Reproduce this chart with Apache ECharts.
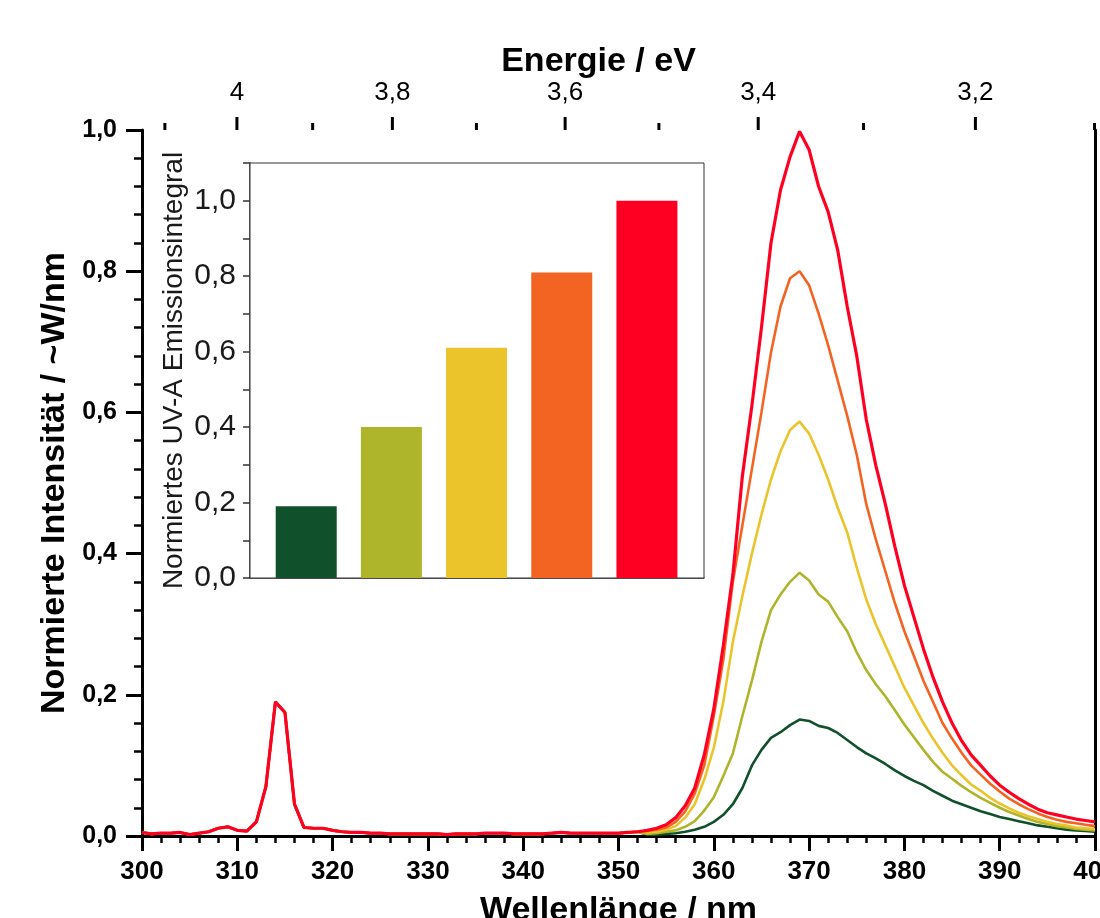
<!DOCTYPE html>
<html>
<head>
<meta charset="utf-8">
<title>UV-A Emission</title>
<script src="https://cdn.jsdelivr.net/npm/echarts@6/dist/echarts.min.js"></script>
<style>
  html, body { margin: 0; padding: 0; background: #fff; }
  #chart { width: 1100px; height: 918px; }
</style>
</head>
<body>
<div id="chart"></div>
<script>
// wavelength grid, 1 nm steps
const nmStart = 300
const nmEnd = 400

// UV-C region 300..352 nm, the five spectra lie on top of each other here
const uvcBand = [
  0.005, 0.003, 0.004, 0.004, 0.005, 0.002, 0.004, 0.006, 0.011, 0.013,
  0.008, 0.007, 0.020, 0.070, 0.190, 0.175, 0.045, 0.012, 0.011, 0.011,
  0.008, 0.006, 0.005, 0.005, 0.004, 0.004, 0.003, 0.003, 0.003, 0.003,
  0.003, 0.003, 0.002, 0.003, 0.003, 0.003, 0.004, 0.004, 0.004, 0.003,
  0.003, 0.003, 0.003, 0.004, 0.005, 0.004, 0.004, 0.004, 0.004, 0.004,
  0.004, 0.005, 0.006
]

// UV-A region 353..400 nm
const uvaGreen = [
  0.002, 0.002, 0.003, 0.004, 0.006, 0.009, 0.013, 0.020, 0.030, 0.045,
  0.068, 0.100, 0.122, 0.139, 0.147, 0.157, 0.165, 0.163, 0.156, 0.153,
  0.146, 0.136, 0.126, 0.117, 0.110, 0.102, 0.093, 0.085, 0.078, 0.072,
  0.064, 0.057, 0.050, 0.045, 0.040, 0.035, 0.031, 0.027, 0.024, 0.021,
  0.018, 0.015, 0.013, 0.011, 0.009, 0.008, 0.007, 0.006
]
const uvaOlive = [
  0.003, 0.004, 0.006, 0.008, 0.013, 0.021, 0.036, 0.055, 0.085, 0.117,
  0.170, 0.220, 0.275, 0.320, 0.342, 0.360, 0.373, 0.362, 0.342, 0.332,
  0.310, 0.290, 0.260, 0.235, 0.215, 0.198, 0.178, 0.158, 0.140, 0.122,
  0.105, 0.091, 0.081, 0.071, 0.062, 0.054, 0.047, 0.040, 0.034, 0.029,
  0.024, 0.020, 0.017, 0.014, 0.012, 0.010, 0.009, 0.008
]
const uvaYellow = [
  0.005, 0.006, 0.009, 0.014, 0.026, 0.045, 0.080, 0.125, 0.190, 0.275,
  0.340, 0.400, 0.455, 0.505, 0.545, 0.575, 0.587, 0.570, 0.540, 0.505,
  0.465, 0.430, 0.380, 0.335, 0.300, 0.270, 0.240, 0.210, 0.185, 0.160,
  0.138, 0.118, 0.100, 0.086, 0.073, 0.064, 0.054, 0.046, 0.039, 0.033,
  0.028, 0.024, 0.020, 0.017, 0.015, 0.012, 0.011, 0.010
]
const uvaOrange = [
  0.007, 0.009, 0.012, 0.020, 0.035, 0.060, 0.100, 0.170, 0.250, 0.360,
  0.440, 0.520, 0.600, 0.685, 0.750, 0.790, 0.800, 0.780, 0.740, 0.695,
  0.645, 0.595, 0.540, 0.470, 0.420, 0.375, 0.330, 0.290, 0.255, 0.220,
  0.190, 0.160, 0.138, 0.118, 0.100, 0.087, 0.074, 0.063, 0.053, 0.045,
  0.038, 0.032, 0.027, 0.023, 0.020, 0.018, 0.016, 0.014
]
const uvaRed = [
  0.008, 0.011, 0.016, 0.026, 0.043, 0.068, 0.115, 0.180, 0.270, 0.370,
  0.510, 0.610, 0.720, 0.840, 0.915, 0.962, 0.998, 0.972, 0.920, 0.884,
  0.830, 0.750, 0.680, 0.590, 0.525, 0.470, 0.410, 0.355, 0.310, 0.265,
  0.225, 0.190, 0.160, 0.135, 0.115, 0.100, 0.085, 0.072, 0.062, 0.053,
  0.045, 0.038, 0.033, 0.030, 0.027, 0.024, 0.022, 0.020
]

// inset: normalised UV-A emission integral
const barValues = [0.19, 0.40, 0.61, 0.81, 1.0]

// energy axis ticks (eV)
const energyMajor = [4.0, 3.8, 3.6, 3.4, 3.2]
const energyMinor = [4.1, 3.9, 3.7, 3.5, 3.3, 3.1]

const colors = ['#10502a', '#aeb52b', '#ebc42b', '#f36322', '#fe0022']
const font = 'Liberation Sans, Arial, sans-serif'
const hc = 1239.84 // eV*nm

const nm = []
for (let w = nmStart; w <= nmEnd; w++) nm.push(w)

const spectra = [uvaGreen, uvaOlive, uvaYellow, uvaOrange, uvaRed].map(uva => {
  const ys = uvcBand.concat(uva)
  return ys.map((v, i) => [nm[i], v])
})

const comma = (v, d) => v.toFixed(d).replace('.', ',')

const chart = echarts.init(document.getElementById('chart'))

const option = {
  backgroundColor: '#fff',
  animation: false,
  textStyle: { fontFamily: font },
  grid: [
    { left: 142, right: 5, top: 130, bottom: 82, outerBoundsMode: 'none' },
    { left: 250, top: 163, width: 454, height: 415, outerBoundsMode: 'none', show: true, borderColor: '#333', borderWidth: 1, backgroundColor: '#fff', z: 5 }
  ],
  xAxis: [
    {
      gridIndex: 0,
      type: 'value',
      position: 'bottom',
      min: 300,
      max: 400,
      interval: 10,
      name: 'Wellenlänge / nm',
      nameLocation: 'middle',
      nameGap: 58,
      nameMoveOverlap: false,
      nameTextStyle: { fontFamily: font, fontWeight: 'bold', fontSize: 34, color: '#000' },
      axisLine: { lineStyle: { color: '#000', width: 3 } },
      axisTick: { length: 15, lineStyle: { color: '#000', width: 3 } },
      minorTick: { show: true, splitNumber: 5, length: 7, lineStyle: { color: '#000', width: 2.5 } },
      axisLabel: { fontFamily: font, fontWeight: 'bold', fontSize: 26, color: '#000', margin: 23 },
      splitLine: { show: false }
    },
    {
      // energy scale, labels only; its ticks come from the custom series below
      gridIndex: 0,
      type: 'value',
      position: 'top',
      min: 300,
      max: 400,
      name: 'Energie / eV',
      nameLocation: 'middle',
      nameGap: 51,
      nameMoveOverlap: false,
      nameTextStyle: { fontFamily: font, fontWeight: 'bold', fontSize: 34, color: '#000', padding: [0, 40, 0, 0] },
      axisLine: { lineStyle: { color: '#000', width: 3 } },
      axisTick: { show: false },
      axisLabel: {
        customValues: energyMajor.map(e => hc / e),
        fontFamily: font,
        fontSize: 26,
        color: '#000',
        margin: 24,
        formatter: v => String(Math.round(hc / v * 10) / 10).replace('.', ',')
      },
      splitLine: { show: false }
    },
    {
      gridIndex: 1,
      type: 'value',
      min: 0.34,
      max: 5.67,
      axisLine: { lineStyle: { color: '#333', width: 1.5 } },
      axisTick: { show: false },
      axisLabel: { show: false },
      splitLine: { show: false }
    }
  ],
  yAxis: [
    {
      gridIndex: 0,
      type: 'value',
      min: 0,
      max: 1,
      interval: 0.2,
      name: 'Normierte Intensität / ~W/nm',
      nameLocation: 'middle',
      nameGap: 70,
      nameMoveOverlap: false,
      nameTextStyle: { fontFamily: font, fontWeight: 'bold', fontSize: 34, color: '#000' },
      axisLine: { show: true, lineStyle: { color: '#000', width: 3 } },
      axisTick: { length: 16, lineStyle: { color: '#000', width: 3 } },
      minorTick: { show: true, splitNumber: 5, length: 8, lineStyle: { color: '#000', width: 2.5 } },
      axisLabel: { fontFamily: font, fontWeight: 'bold', fontSize: 25, color: '#000', margin: 25, formatter: v => comma(v, 1) },
      splitLine: { show: false }
    },
    {
      gridIndex: 0,
      type: 'value',
      position: 'right',
      min: 0,
      max: 1,
      axisLine: { show: true, lineStyle: { color: '#000', width: 3 } },
      axisTick: { show: false },
      axisLabel: { show: false },
      splitLine: { show: false }
    },
    {
      gridIndex: 1,
      type: 'value',
      min: 0,
      max: 1.1,
      interval: 0.1,
      name: 'Normiertes UV-A Emissionsintegral',
      nameLocation: 'middle',
      nameGap: 62,
      nameMoveOverlap: false,
      nameTextStyle: { fontFamily: font, fontSize: 28, color: '#1a1a1a' },
      axisLine: { show: true, lineStyle: { color: '#333', width: 1.5 } },
      axisTick: { length: 7, lineStyle: { color: '#333', width: 1.5 } },
      axisLabel: {
        fontFamily: font,
        fontSize: 30,
        color: '#1a1a1a',
        margin: 14,
        formatter: v => (Math.round(v * 10) % 2 === 0 ? comma(v, 1) : '')
      },
      splitLine: { show: false }
    }
  ],
  series: spectra.map((d, i) => ({
    type: 'line',
    xAxisIndex: 0,
    yAxisIndex: 0,
    data: d,
    showSymbol: false,
    lineStyle: { color: colors[i], width: i === 4 ? 3.2 : 2.6 },
    z: 2 + i
  })).concat([
    {
      type: 'bar',
      xAxisIndex: 2,
      yAxisIndex: 2,
      barWidth: 61,
      z: 10,
      data: barValues.map((v, i) => ({ value: [i + 1, v], itemStyle: { color: colors[i] } }))
    },
    {
      // ticks of the (non linear) energy axis along the top edge
      type: 'custom',
      xAxisIndex: 0,
      yAxisIndex: 0,
      clip: false,
      silent: true,
      z: 20,
      data: energyMajor.concat(energyMinor).map(e => [hc / e, e]),
      renderItem: (params, api) => {
        const p = api.coord([api.value(0), 1])
        const len = params.dataIndex < energyMajor.length ? 13 : 7
        return {
          type: 'line',
          shape: { x1: p[0], y1: p[1], x2: p[0], y2: p[1] - len },
          style: { stroke: '#000', lineWidth: 3 }
        }
      }
    }
  ])
}

chart.setOption(option)
</script>
</body>
</html>
